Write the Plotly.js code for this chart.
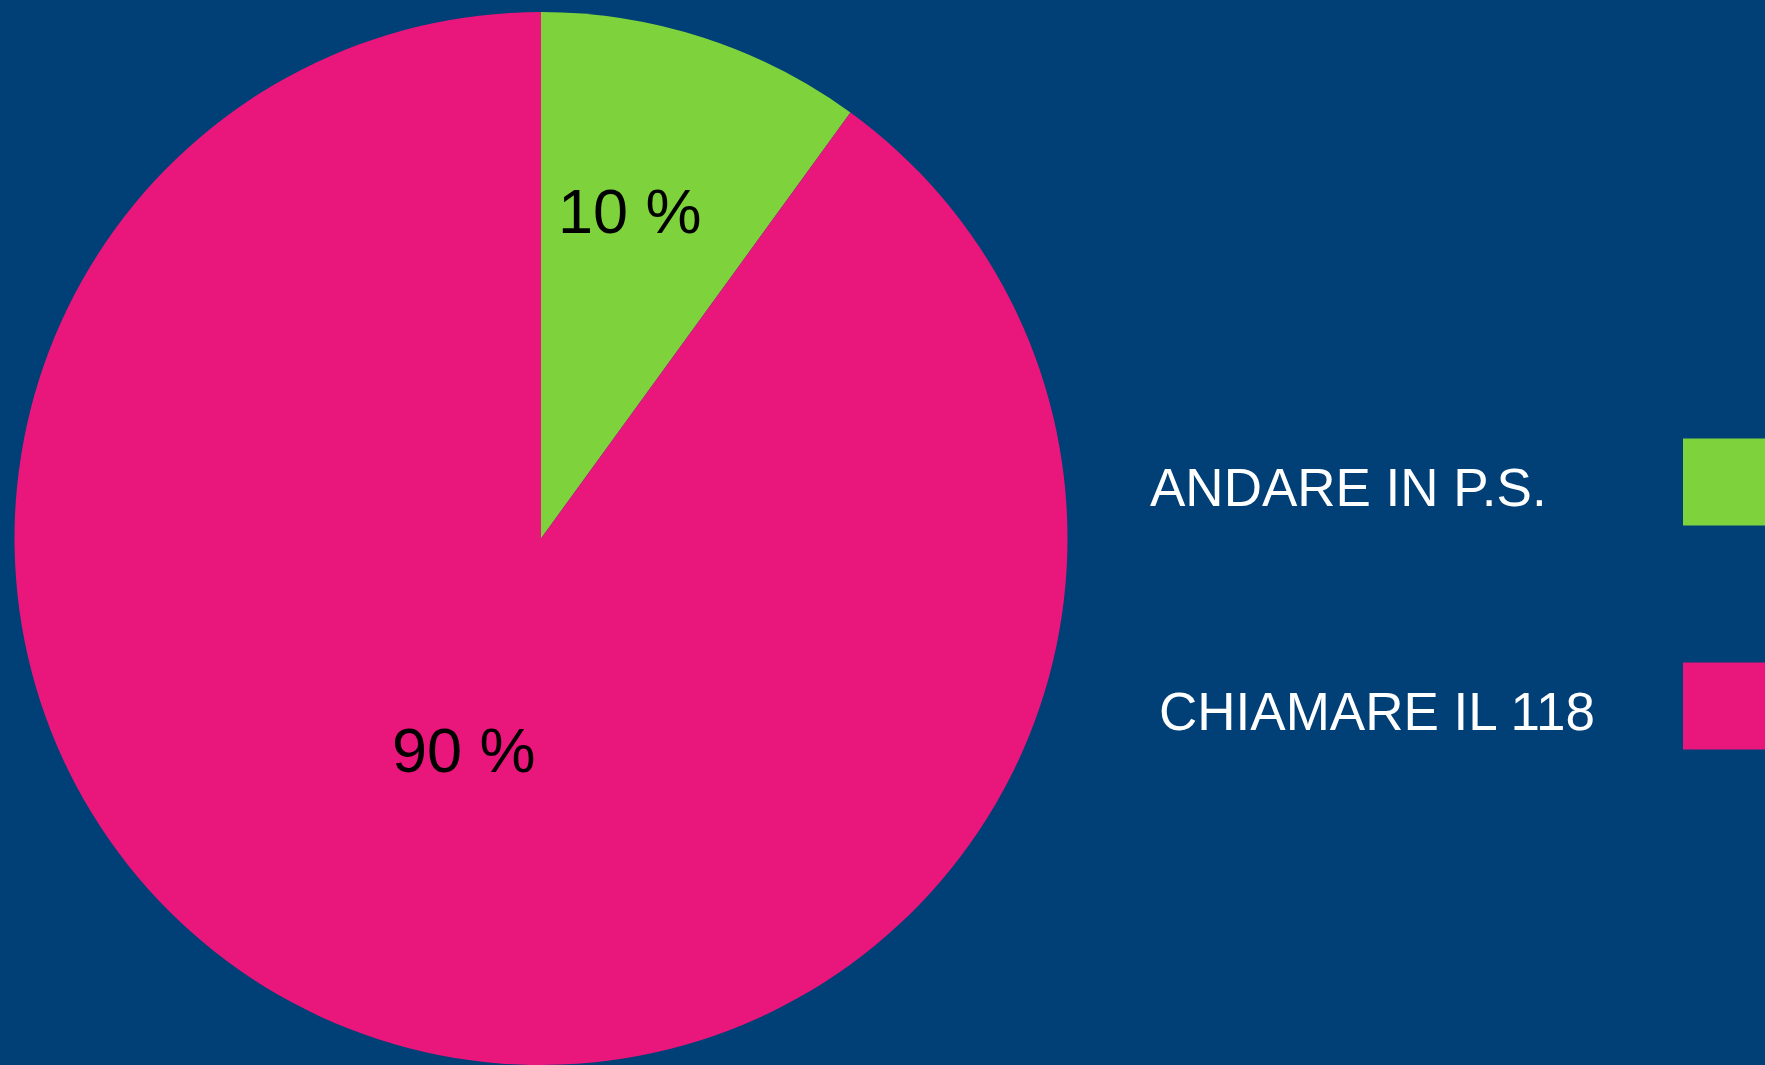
<!DOCTYPE html>
<html>
<head>
<meta charset="utf-8">
<script src="https://cdn.plot.ly/plotly-3.0.1.min.js"></script>
<style>
  html, body { margin: 0; padding: 0; background: #013F77; }
  #chart { width: 1765px; height: 1065px; }
</style>
</head>
<body>
<div id="chart"></div>
<script>
// ---- data ----
const categories = ["ANDARE IN P.S.", "CHIAMARE IL 118"];
const percentValues = [10, 90];
const sliceColors = ["#7ED23B", "#E9177C"];

// ---- layout helpers ----
const W = 1765, H = 1065;
const topGap = 12;
const R = (H - topGap) / 2;
const cx = 541, cy = topGap + R;                  // pie geometry in px
const labelRadial = [0.645, 0.427];               // radial fraction for % labels
const labelAngleAdj = [-2.8, 2.0];                // degrees tweak
const legendTextX = [1148, 1157];
const legendRowY = [487, 711];
const boxX0 = 1683, boxH = 87;

const total = percentValues.reduce((a, b) => a + b, 0);

const trace = {
  type: "pie",
  labels: categories,
  values: percentValues,
  sort: false,
  direction: "clockwise",
  rotation: 0,
  marker: { colors: sliceColors, line: { width: 0 } },
  textinfo: "none",
  hoverinfo: "label+percent",
  showlegend: false,
  domain: { x: [(cx - R) / W, (cx + R) / W], y: [0, 1 - topGap / H] }
};

const annotations = [];
const shapes = [];
let cum = 0;
percentValues.forEach((v, i) => {
  const mid = (cum + v / 2) / total;
  cum += v;
  const th = (mid * 360 + labelAngleAdj[i]) * Math.PI / 180;
  const px = cx + R * labelRadial[i] * Math.sin(th);
  const py = cy - R * labelRadial[i] * Math.cos(th);
  annotations.push({
    xref: "paper", yref: "paper",
    x: px / W, y: 1 - py / H,
    xanchor: "center", yanchor: "middle",
    text: v + " %", showarrow: false,
    font: { family: "Liberation Sans, Arial, sans-serif", size: 63, color: "#000000" }
  });
  // legend entry: text on the left, colour box on the right
  annotations.push({
    xref: "paper", yref: "paper",
    x: legendTextX[i] / W, y: 1 - legendRowY[i] / H,
    xanchor: "left", yanchor: "middle",
    text: categories[i], showarrow: false,
    font: { family: "Liberation Sans, Arial, sans-serif", size: 53, color: "#FFFFFF" }
  });
  shapes.push({
    type: "rect", xref: "paper", yref: "paper",
    x0: boxX0 / W, x1: 1.02,
    y0: 1 - (legendRowY[i] - 5 + boxH / 2) / H,
    y1: 1 - (legendRowY[i] - 5 - boxH / 2) / H,
    fillcolor: sliceColors[i], line: { width: 0 }
  });
});

const layout = {
  width: W, height: H,
  margin: { l: 0, r: 0, t: 0, b: 0 },
  paper_bgcolor: "#013F77",
  plot_bgcolor: "#013F77",
  showlegend: false,
  annotations: annotations,
  shapes: shapes
};

Plotly.newPlot("chart", [trace], layout, { displayModeBar: false, staticPlot: true });
</script>
</body>
</html>
